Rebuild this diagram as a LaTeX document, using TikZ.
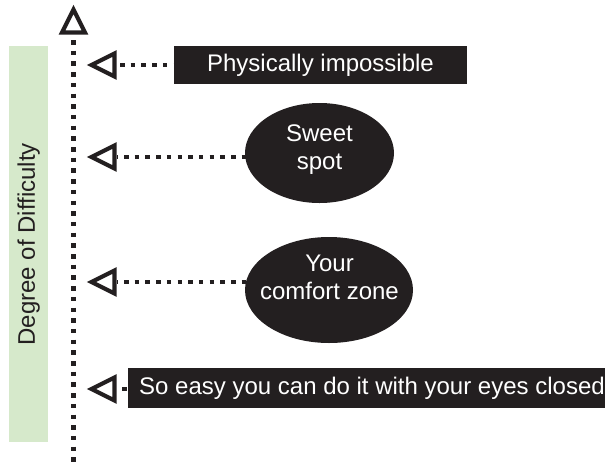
\documentclass[tikz,border=0pt]{standalone}
\usepackage{fontspec}
\setmainfont{Liberation Sans}
\usetikzlibrary{shapes.geometric}
\definecolor{ink}{HTML}{231F20}
\definecolor{soft}{HTML}{D6E9CB}
\pgfdeclarelayer{bg}
\pgfsetlayers{bg,main}
\begin{document}
\begin{tikzpicture}[x=1pt,y=-1pt,
  dotline/.style={ink, line width=4.6pt, dash pattern=on 4.5pt off 6.2pt},
  head/.style={ink, line width=4.2pt, line join=miter, fill=white},
  blackbox/.style={fill=ink, inner sep=0pt},
  blob/.style={ellipse, fill=ink, inner sep=0pt},
  txt/.style={font=\fontsize{24}{28}\selectfont, inner sep=0pt},
  wtxt/.style={txt, text=white, align=center}]
\useasboundingbox (0,0) rectangle (605,464);

% side band
\node[fill=soft, minimum width=39pt, minimum height=396pt, inner sep=0pt, anchor=north west] (band) at (9,46) {};
\node[txt, text=ink, rotate=90] (label) at (band.center) {Degree of Difficulty};

% vertical axis
\coordinate (axtip) at (73.5,9.5);
\coordinate (axbase) at (73.5,36);
\coordinate (axend) at (73.5,466);
\draw[dotline, dash phase=6.7pt] (axbase) -- (axend);
\draw[head] (axtip) -- ++(-11.5,23) -- ++(23,0) -- cycle;

% targets
\node[blackbox, minimum width=293pt, minimum height=38pt] (box1) at (320.5,65) {};
\node[wtxt] (box1t) at (box1.center) {Physically impossible};

\node[blob, minimum width=149pt, minimum height=100pt] (e1) at (319.5,153) {};
\node[wtxt] (e1t) at (319.5,150) {Sweet\\spot};

\node[blob, minimum width=168pt, minimum height=106pt] (e2) at (329,290) {};
\node[wtxt] (e2t) at (329.5,277.5) {Your\\comfort zone};

\node[blackbox, minimum width=478pt, minimum height=40pt] (box4) at (367,388) {};
\node[txt, text=white, anchor=west] (box4t) at (139,388) {So easy you can do it with your eyes closed};

% arrow heads and connectors
\coordinate (t1) at (91.5,65);  \coordinate (s1) at (117,65);
\coordinate (t2) at (91.5,157); \coordinate (s2) at (117,157);
\coordinate (t3) at (91.5,282); \coordinate (s3) at (117,282);
\coordinate (t4) at (91.5,389); \coordinate (s4) at (117,389);

\begin{pgfonlayer}{bg}
\draw[dotline, dash phase=7.7pt] (s1) -- (s1 -| box1.center);
\draw[dotline, dash phase=3.7pt] (s2) -- (s2 -| e1.center);
\draw[dotline, dash phase=3.7pt] (s3) -- (s3 -| e2.center);
\draw[dotline, dash phase=5.7pt] (s4) -- (s4 -| box4.center);
\end{pgfonlayer}

\draw[head] (t1) -- ++(23,-11.5) -- ++(0,23) -- cycle;
\draw[head] (t2) -- ++(23,-11.5) -- ++(0,23) -- cycle;
\draw[head] (t3) -- ++(23,-11.5) -- ++(0,23) -- cycle;
\draw[head] (t4) -- ++(23,-11.5) -- ++(0,23) -- cycle;
\end{tikzpicture}
\end{document}
